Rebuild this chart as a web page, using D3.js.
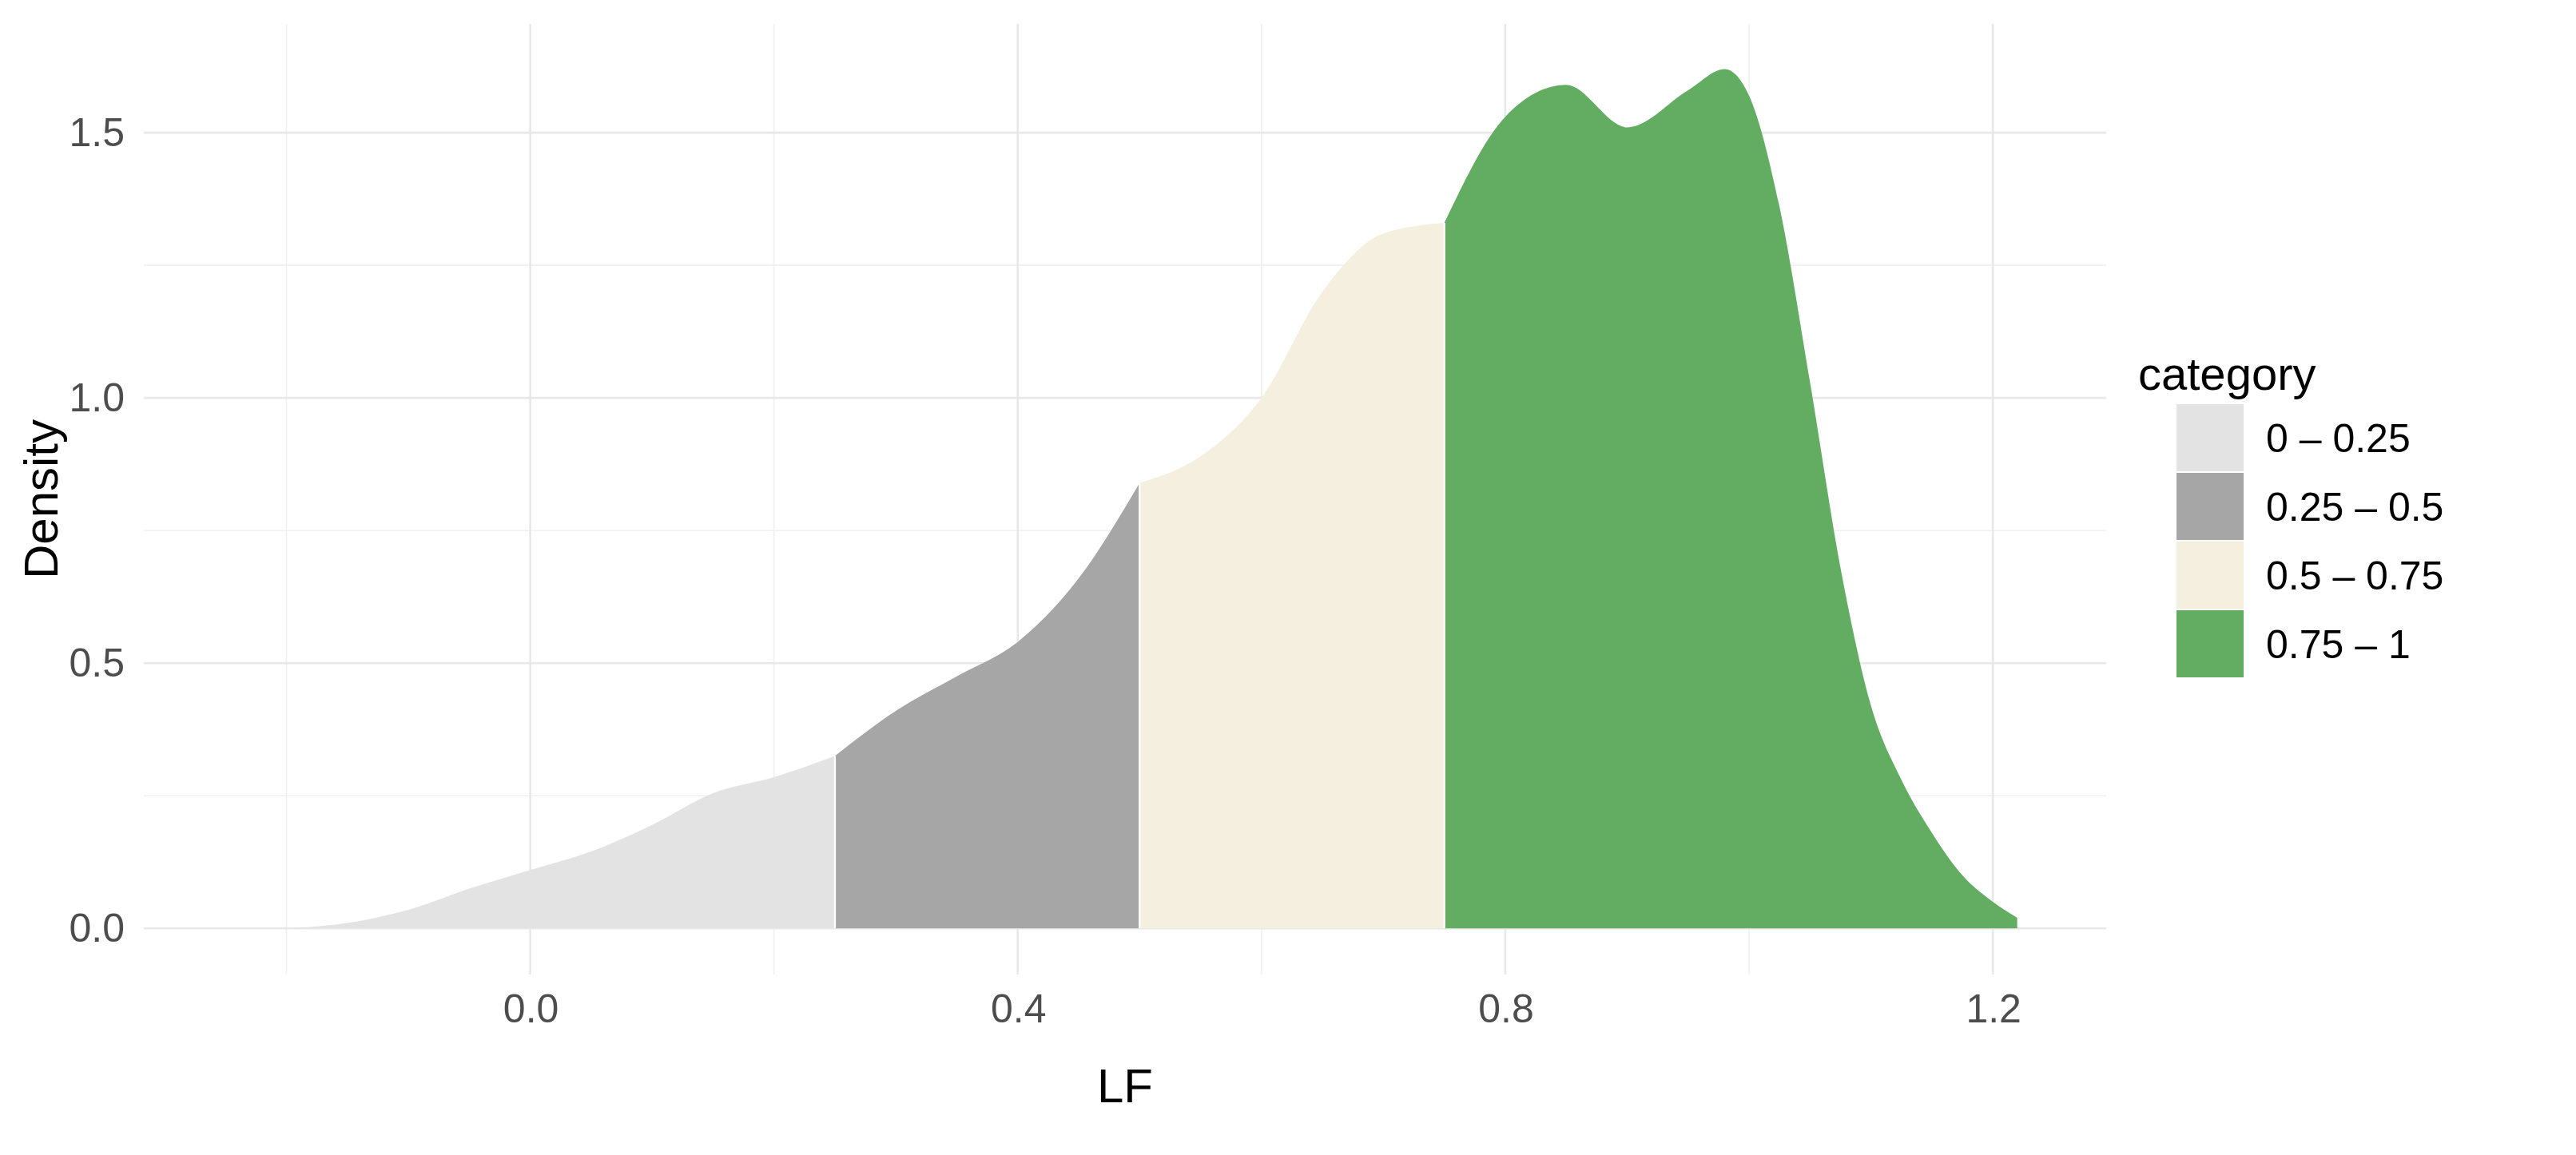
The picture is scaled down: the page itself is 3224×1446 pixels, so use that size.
<!DOCTYPE html>
<html>
<head>
<meta charset="utf-8">
<script src="https://cdn.jsdelivr.net/npm/d3@7"></script>
<style>
  body { margin: 0; background: #fff; }
  text { font-family: "Liberation Sans", Arial, sans-serif; }
</style>
</head>
<body>
<svg id="chart"></svg>
<script>
// density estimate
const lfValues = [-0.195, -0.15, -0.1, -0.05, 0.0, 0.05, 0.1, 0.15, 0.2, 0.25,
  0.3, 0.35, 0.4, 0.45, 0.5, 0.55, 0.6, 0.65, 0.7, 0.75,
  0.8, 0.85, 0.9, 0.95, 0.98, 1.0, 1.025, 1.05, 1.075, 1.1, 1.125, 1.15, 1.175, 1.2, 1.22];
const densityValues = [0.0, 0.01, 0.035, 0.075, 0.11, 0.145, 0.195, 0.255, 0.285, 0.325,
  0.41, 0.475, 0.54, 0.66, 0.84, 0.89, 1.0, 1.2, 1.31, 1.33,
  1.53, 1.59, 1.51, 1.58, 1.62, 1.57, 1.36, 1.03, 0.68, 0.42, 0.28, 0.18, 0.1, 0.05, 0.02];
const categories = ["0 \u2013 0.25", "0.25 \u2013 0.5", "0.5 \u2013 0.75", "0.75 \u2013 1"];
const breaks = [-Infinity, 0.25, 0.5, 0.75, Infinity];
const colors = ["#e3e3e3", "#a6a6a6", "#f5efe0", "#63ad63"];
const xTicks = [0.0, 0.4, 0.8, 1.2];
const yTicks = [0.0, 0.5, 1.0, 1.5];

const W = 1612, H = 723;
const svg = d3.select("#chart")
  .attr("width", 3224).attr("height", 1446)
  .attr("viewBox", `0 0 ${W} ${H}`);

const panel = { left: 90, right: 1318, top: 15, bottom: 610 };
const x = d3.scaleLinear().domain([-0.317, 1.293]).range([panel.left, panel.right]);
const y = d3.scaleLinear().domain([-0.087, 1.705]).range([panel.bottom, panel.top]);

const pts = lfValues.map((v, i) => ({ x: v, d: densityValues[i] }));

// grid
const grid = svg.append("g");
[-0.2, 0.2, 0.6, 1.0].forEach(v => grid.append("line")
  .attr("x1", x(v)).attr("x2", x(v)).attr("y1", panel.top).attr("y2", panel.bottom)
  .attr("stroke", "#f0f0f0").attr("stroke-width", 0.8));
[0.25, 0.75, 1.25].forEach(v => grid.append("line")
  .attr("y1", y(v)).attr("y2", y(v)).attr("x1", panel.left).attr("x2", panel.right)
  .attr("stroke", "#f0f0f0").attr("stroke-width", 0.8));
xTicks.forEach(v => grid.append("line")
  .attr("x1", x(v)).attr("x2", x(v)).attr("y1", panel.top).attr("y2", panel.bottom)
  .attr("stroke", "#e8e8e8").attr("stroke-width", 1.3));
yTicks.forEach(v => grid.append("line")
  .attr("y1", y(v)).attr("y2", y(v)).attr("x1", panel.left).attr("x2", panel.right)
  .attr("stroke", "#e8e8e8").attr("stroke-width", 1.3));

// areas
const area = d3.area().x(p => x(p.x)).y0(y(0)).y1(p => y(p.d)).curve(d3.curveMonotoneX);
categories.forEach((c, i) => {
  const seg = pts.filter(p => p.x >= breaks[i] && p.x <= breaks[i + 1]);
  svg.append("path").datum(seg).attr("d", area).attr("fill", colors[i]);
});
// thin white separators at the breaks
[0.25, 0.5, 0.75].forEach(b => {
  const p = pts.find(q => q.x === b);
  svg.append("line").attr("x1", x(b)).attr("x2", x(b))
    .attr("y1", y(0)).attr("y2", y(p.d)).attr("stroke", "#fff").attr("stroke-width", 1.2);
});

// axes
const xAxis = svg.append("g").attr("transform", `translate(0,${panel.bottom})`)
  .call(d3.axisBottom(x).tickValues(xTicks).tickFormat(d3.format(".1f")).tickSize(0).tickPadding(12));
const yAxis = svg.append("g").attr("transform", `translate(${panel.left},0)`)
  .call(d3.axisLeft(y).tickValues(yTicks).tickFormat(d3.format(".1f")).tickSize(0).tickPadding(12));
[xAxis, yAxis].forEach(a => {
  a.select(".domain").remove();
  a.selectAll("text").attr("font-size", 25).attr("fill", "#4d4d4d")
    .style("font-family", "'Liberation Sans', Arial, sans-serif");
});

svg.append("text").attr("x", (panel.left + panel.right) / 2).attr("y", 690)
  .attr("text-anchor", "middle").attr("font-size", 30).attr("fill", "#000").text("LF");
svg.append("text").attr("transform", `translate(36,${(panel.top + panel.bottom) / 2}) rotate(-90)`)
  .attr("text-anchor", "middle").attr("font-size", 30).attr("fill", "#000").text("Density");

// legend
const lg = svg.append("g").attr("transform", "translate(1338,0)");
lg.append("text").attr("x", 0).attr("y", 244).attr("font-size", 29).attr("fill", "#000").text("category");
categories.forEach((c, i) => {
  const yy = 253 + i * 43;
  lg.append("rect").attr("x", 24).attr("y", yy).attr("width", 42).attr("height", 42).attr("fill", colors[i]);
  lg.append("text").attr("x", 80).attr("y", yy + 30).attr("font-size", 25).attr("fill", "#000").text(c);
});
</script>
</body>
</html>
